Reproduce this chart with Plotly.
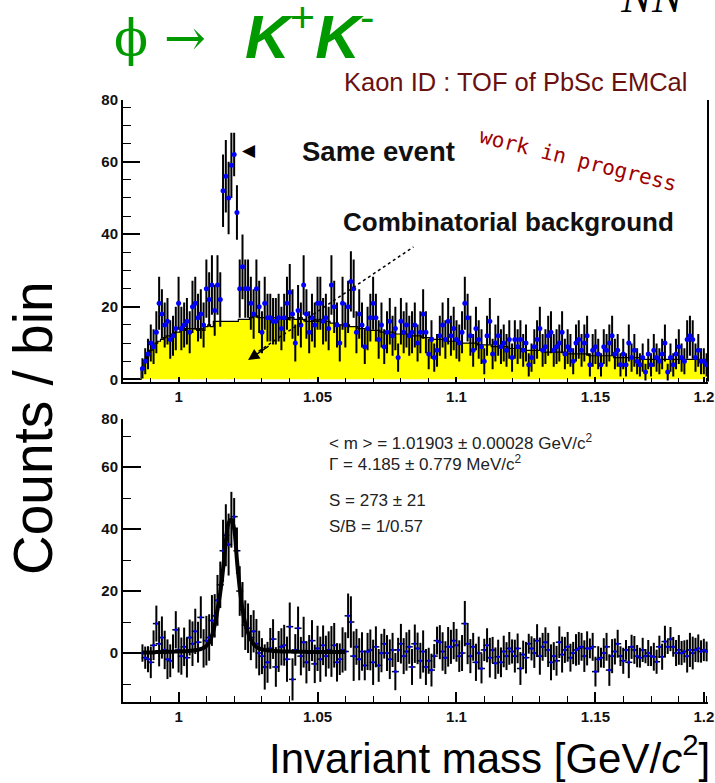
import numpy as np
import plotly.graph_objects as go

W, H = 715, 783

# ---------------- data ----------------
BIN = 0.001
DATA_START = 0.987   # first bin centre of the same-event / subtracted spectra
BKG_START = 0.981    # first bin centre of the combinatorial background
FIT_START = 0.987    # first point of the fit curve

# same-event K+K- pairs, counts per 1 MeV bin (0.987 ... 1.190)
same_event = [
    3, 5, 7, 10, 9, 13, 21, 18, 15, 16,
    11, 12, 14, 21, 14, 15, 16, 13, 20, 21,
    17, 18, 15, 25, 22, 26, 19, 26, 22, 52,
    56, 50, 59, 62, 46, 25, 31, 25, 25, 21,
    18, 25, 20, 13, 21, 17, 17, 16, 16, 17,
    14, 17, 21, 24, 18, 10, 19, 15, 26, 18,
    13, 17, 15, 21, 21, 16, 17, 14, 26, 20,
    15, 10, 21, 15, 20, 27, 25, 13, 18, 15,
    9, 14, 17, 21, 17, 11, 15, 9, 13, 16,
    12, 14, 6, 16, 13, 15, 12, 13, 15, 10,
    13, 18, 13, 7, 11, 6, 8, 12, 15, 11,
    16, 12, 14, 11, 10, 13, 21, 17, 12, 8,
    14, 11, 9, 5, 12, 16, 7, 10, 12, 9,
    10, 8, 11, 6, 11, 9, 11, 8, 10, 4,
    6, 9, 11, 14, 8, 9, 12, 13, 8, 9,
    10, 13, 7, 9, 8, 5, 10, 11, 8, 10,
    12, 4, 8, 9, 7, 4, 9, 8, 10, 12,
    7, 8, 4, 7, 4, 10, 6, 8, 5, 4,
    6, 2, 7, 4, 8, 6, 5, 7, 10, 2,
    6, 4, 7, 9, 6, 5, 11, 12, 11, 6,
    8, 5, 5, 4,
]

# error bar half-lengths per bin (same binning)
bin_errors = [
    2.8, 3.6, 4.2, 5.1, 4.8, 5.8, 7.3, 6.8, 6.2, 6.4,
    5.3, 5.5, 6.0, 7.3, 6.0, 6.2, 6.4, 5.8, 7.2, 7.3,
    6.6, 6.8, 6.2, 8.0, 7.5, 8.2, 7.0, 8.2, 7.5, 10.0,
    10.0, 10.0, 9.0, 6.0, 7.5, 8.0, 8.9, 8.0, 8.0, 7.3,
    6.8, 8.0, 7.2, 5.8, 7.3, 6.6, 6.6, 6.4, 6.4, 6.6,
    6.0, 6.6, 7.3, 7.8, 6.8, 5.1, 7.0, 6.2, 8.2, 6.8,
    5.8, 6.6, 6.2, 7.3, 7.3, 6.4, 6.6, 6.0, 8.2, 7.2,
    6.2, 5.1, 7.3, 6.2, 7.2, 8.3, 8.0, 5.8, 6.8, 6.2,
    4.8, 6.0, 6.6, 7.3, 6.6, 5.3, 6.2, 4.8, 5.8, 6.4,
    5.5, 6.0, 3.9, 6.4, 5.8, 6.2, 5.5, 5.8, 6.2, 5.1,
    5.8, 6.8, 5.8, 4.2, 5.3, 3.9, 4.5, 5.5, 6.2, 5.3,
    6.4, 5.5, 6.0, 5.3, 5.1, 5.8, 7.3, 6.6, 5.5, 4.5,
    6.0, 5.3, 4.8, 3.6, 5.5, 6.4, 4.2, 5.1, 5.5, 4.8,
    5.1, 4.5, 5.3, 3.9, 5.3, 4.8, 5.3, 4.5, 5.1, 3.2,
    3.9, 4.8, 5.3, 6.0, 4.5, 4.8, 5.5, 5.8, 4.5, 4.8,
    5.1, 5.8, 4.2, 4.8, 4.5, 3.6, 5.1, 5.3, 4.5, 5.1,
    5.5, 3.2, 4.5, 4.8, 4.2, 3.2, 4.8, 4.5, 5.1, 5.5,
    4.2, 4.5, 3.2, 4.2, 3.2, 5.1, 3.9, 4.5, 3.6, 3.2,
    3.9, 2.3, 4.2, 3.2, 4.5, 3.9, 3.6, 4.2, 5.1, 2.3,
    3.9, 3.2, 4.2, 4.8, 3.9, 3.6, 5.3, 5.5, 5.3, 3.9,
    4.5, 3.6, 3.6, 3.2,
]

# combinatorial (mixed-event) background, per bin (0.981 ... 1.190)
background = [
    0, 0, 0, 0, 0, 0, 3, 5, 6.5, 8,
    9, 10, 10.5, 11, 11.5, 12, 12, 12.5, 13, 13,
    13.5, 13.5, 14, 14, 14, 14, 13.5, 14, 13.5, 14.5,
    15, 14.5, 16, 16, 16, 16, 16, 16, 16, 16,
    16, 16.5, 16.5, 16.5, 16.5, 17, 17.5, 17.5, 17, 17,
    17, 17, 17, 17, 17, 17, 17, 16.5, 16.5, 17,
    17, 16.5, 16.5, 17, 16.5, 16, 16, 16, 16.5, 16,
    16.5, 16, 16, 16, 15.5, 15.5, 15.5, 15, 15, 15,
    15, 14.5, 14.5, 14.5, 14, 14, 14, 14, 13.5, 13.5,
    13.5, 13.5, 13, 13, 13, 13, 13, 12.5, 12.5, 12.5,
    12.5, 12.5, 12, 12, 12, 12, 12, 11.5, 11.5, 11.5,
    11.5, 11, 11, 11, 11, 11, 10.5, 10.5, 10.5, 10.5,
    10.5, 10, 10, 10, 10, 10, 10, 9.5, 9.5, 9.5,
    9.5, 9.5, 9, 9, 9, 9, 9, 9, 8.5, 8.5,
    8.5, 8.5, 8.5, 8.5, 8, 8, 8, 8, 8, 8,
    8, 7.5, 7.5, 7.5, 7.5, 7.5, 7.5, 7.5, 7.5, 7,
    7, 7, 7, 7, 7, 7, 7, 6.5, 6.5, 6.5,
    6.5, 6.5, 6.5, 6.5, 6.5, 6.5, 6, 6, 6, 6,
    6, 6, 6, 6, 6, 6, 5.5, 5.5, 5.5, 5.5,
    5.5, 5.5, 5.5, 5.5, 5.5, 5.5, 5.5, 5.5, 5.5, 5.5,
    5.5, 5.5, 5.5, 5.5, 5.5, 5.5, 5.5, 5.5, 5.5, 5.5,
]

# background-subtracted spectrum, per bin (0.987 ... 1.190)
subtracted = [
    0, -1.5, -2, -3, 2.5, 9.5, 3, 5, 1, -2,
    -2.5, 0.5, 7.5, 1, -1, 2, -1.5, 5, 3, 7,
    3.5, 11.5, 1.5, 4, 5, 10.5, 12, 17, 22, 33,
    38, 35, 43, 44, 33, 20, 14, 9, 8, 5,
    7, 3, 0, -1, -4.5, -3, 1.5, 4.5, -4.5, 0.5,
    2, 2.5, -2, 8.5, -8.5, 1, 8, -1, 3.5, -3,
    0, 4, -3.5, 1.5, -2, 2.5, -1, 1, 0.5, 2.5,
    -3, -2, 1, 0.5, 12, 10, -1, 2, -2, 0.5,
    -4, 0.5, 1, -3, 2, -4, 0, 3, 0, -2,
    1, -6, 1, 3, -1, 0.5, 2, -4.5, 3, 1.5,
    -2.5, 0.5, -4.5, -2.5, -5.5, -1, 4, 3.5, 0.5, -1.5,
    2, 2, 4, 2.5, -1, 0, 9.5, 3, -1, 2,
    -3, 0, -5, 1, 2.5, -1.5, 1, -3.3, -1.2, -3,
    0.5, -1, 1.5, 0.5, -1, 1.5, -5, -0.5, -1.5, 3,
    1.5, 0, 4, -1, 2, 3.5, 1, -3, -1, -2.5,
    3.5, -0.5, 1, 2, -1.5, 0, 1, 1.5, 2, -1,
    1.5, 1.5, 2, -6, -2, -1.5, 0, 2, -5.5, -1,
    0.5, 3, -1, -2.5, 1, -3, 2, 1, -1, -1.5,
    1, -1, 0, -1, -1.2, -2.8, 2, -1.2, 3.7, 2,
    4.5, 2, 0, 1, 0, 0.5, -1, 1, 0, 1,
    1.5, 0.5, 1, 0.5,
]

# fitted phi line shape (0.987 ... 1.060)
fit_curve = [
    0.2, 0.2, 0.2, 0.2, 0.2, 0.3, 0.3, 0.3, 0.3, 0.4,
    0.4, 0.4, 0.5, 0.5, 0.5, 0.6, 0.6, 0.7, 0.8, 0.9,
    1.1, 1.3, 1.7, 2.3, 3.3, 5.5, 9, 14, 19.5, 27,
    36, 42, 43, 40, 30, 21, 14, 9.5, 6.5, 4.3,
    2.8, 2, 1.5, 1.2, 1, 0.9, 0.8, 0.7, 0.6, 0.6,
    0.5, 0.5, 0.5, 0.5, 0.4, 0.4, 0.4, 0.4, 0.4, 0.4,
    0.3, 0.3, 0.3, 0.3, 0.3, 0.3, 0.3, 0.3, 0.3, 0.3,
    0.3, 0.3, 0.3, 0.3,
]

x_tick_vals = [1.0, 1.05, 1.1, 1.15, 1.189]
x_tick_text = ["1", "1.05", "1.1", "1.15", "1.2"]
y_tick_text = ["0", "20", "40", "60", "80"]
top_y_tick_vals = [0, 20, 40, 60, 77]
bot_y_tick_vals = [0, 20, 40, 60, 75.5]

# ---------------- derived bin centres ----------------
x_data = np.round(DATA_START + BIN * np.arange(len(same_event)), 4)
x_bkg = np.round(BKG_START + BIN * np.arange(len(background)), 4)
x_fit = np.round(FIT_START + BIN * np.arange(len(fit_curve)), 4)


def pxx(x):
    return x / W


def pxy(y):
    return 1 - y / H


GREEN = "#009a00"
BLUE = "#0000ff"
SANS = "Liberation Sans, Arial, sans-serif"
SERIF = "DejaVu Serif, Liberation Serif, serif"

fig = go.Figure()

# top panel: background
fig.add_trace(go.Scatter(
    x=x_bkg, y=background, mode="lines",
    line=dict(shape="hvh", color="black", width=1.2),
    fill="tozeroy", fillcolor="#ffff00",
    xaxis="x", yaxis="y", hoverinfo="skip", showlegend=False))

# top panel: same event
fig.add_trace(go.Scatter(
    x=x_data, y=same_event, mode="markers",
    marker=dict(color=BLUE, size=5),
    error_y=dict(type="data", array=bin_errors, color="black", thickness=2, width=0),
    xaxis="x", yaxis="y", showlegend=False))

# bottom panel: subtracted spectrum
fig.add_trace(go.Scatter(
    x=x_data, y=subtracted, mode="markers",
    marker=dict(symbol="line-ew", size=5, color="black", line=dict(color="black", width=1.5)),
    error_y=dict(type="data", array=bin_errors, color="black", thickness=2, width=0),
    xaxis="x2", yaxis="y2", showlegend=False))
fig.add_trace(go.Scatter(
    x=x_data, y=subtracted, mode="markers",
    marker=dict(color=BLUE, size=3),
    xaxis="x2", yaxis="y2", showlegend=False))

# bottom panel: fit
fig.add_trace(go.Scatter(
    x=x_fit, y=fit_curve, mode="lines",
    line=dict(color="black", width=4, shape="spline"),
    xaxis="x2", yaxis="y2", showlegend=False))

# partly cut "NN" at the very top (clipped by a thin invisible strip of axes)
fig.add_trace(go.Scatter(
    x=[0.5], y=[1.0], mode="text", text=["<i>NN</i>"], textposition="middle center",
    textfont=dict(family="Liberation Serif, serif", size=46, color="black"),
    cliponaxis=True, xaxis="x3", yaxis="y3", hoverinfo="skip", showlegend=False))

XDOM = [pxx(123), pxx(708)]
XRANGE = [0.98, 1.1905]
tickfont = dict(family=SANS, size=15, color="#111", weight="bold")

common_x = dict(
    range=XRANGE, domain=XDOM, showgrid=False, zeroline=False, automargin=False,
    tickmode="array", tickvals=x_tick_vals, ticktext=x_tick_text,
    ticks="inside", tickcolor="black", tickwidth=1.5,
    showline=True, linecolor="black", linewidth=2,
    tickfont=tickfont,
)

fig.update_layout(
    width=W, height=H,
    margin=dict(l=0, r=0, t=0, b=0, autoexpand=False),
    paper_bgcolor="white", plot_bgcolor="rgba(0,0,0,0)",
    showlegend=False,
    xaxis=dict(**common_x, anchor="y", ticklen=5,
               minor=dict(tickmode="linear", tick0=0, dtick=0.01, ticks="inside",
                          ticklen=4, tickcolor="black", tickwidth=1.2)),
    yaxis=dict(domain=[pxy(381.5), pxy(100)], range=[-0.6, 77], anchor="x",
               showgrid=False, zeroline=False, automargin=False, tickmode="array",
               tickvals=top_y_tick_vals, ticktext=y_tick_text,
               ticks="inside", ticklen=17, tickcolor="black", tickwidth=1.5,
               showline=True, linecolor="black", linewidth=2, tickfont=tickfont,
               minor=dict(tickmode="linear", tick0=0, dtick=5, ticks="inside",
                          ticklen=8, tickcolor="black", tickwidth=1.2)),
    xaxis2=dict(**common_x, anchor="y2", ticklen=10,
                minor=dict(tickmode="linear", tick0=0, dtick=0.01, ticks="inside",
                           ticklen=6, tickcolor="black", tickwidth=1.2)),
    yaxis2=dict(domain=[pxy(702), pxy(419)], range=[-15.8, 75.5], anchor="x2",
                showgrid=False, zeroline=False, automargin=False, tickmode="array",
                tickvals=bot_y_tick_vals, ticktext=y_tick_text,
                ticks="inside", ticklen=18, tickcolor="black", tickwidth=1.5,
                showline=True, linecolor="black", linewidth=2, tickfont=tickfont,
                minor=dict(tickmode="linear", tick0=0, dtick=10, ticks="inside",
                           ticklen=8, tickcolor="black", tickwidth=1.2)),
    xaxis3=dict(domain=[pxx(596), pxx(708)], range=[0, 1], visible=False,
                automargin=False, anchor="y3"),
    yaxis3=dict(domain=[pxy(14), 1.0], range=[0, 1.02], visible=False,
                automargin=False, anchor="x3"),
)

# right frame of the top panel
fig.add_shape(type="line", xref="paper", yref="paper",
              x0=pxx(708), x1=pxx(708), y0=pxy(381.5), y1=pxy(100),
              line=dict(color="black", width=2))

# dotted pointer to the background
fig.add_shape(type="line", xref="x", yref="y",
              x0=1.027, y0=6.8, x1=1.0845, y1=36.5,
              line=dict(color="black", width=1.5, dash="dot"))

ann = []


def text(x, y, t, size, color="black", family=SANS, xanchor="left", yanchor="middle",
         angle=0, weight="normal"):
    ann.append(dict(x=pxx(x), y=pxy(y), xref="paper", yref="paper", text=t,
                    showarrow=False, xanchor=xanchor, yanchor=yanchor, textangle=angle,
                    font=dict(size=size, color=color, family=family, weight=weight)))


text(112, 38, "ϕ →", 50, GREEN, SERIF)
text(243, 32, "<b><i>K</i></b><sup>+</sup><b><i>K</i></b><sup>-</sup>", 62, GREEN)
text(342, 82, "Kaon ID : TOF of PbSc EMCal", 25.5, "#6a1010")
text(300, 152, "Same event", 27.5, "#111", weight="bold")
text(240, 150, "◀", 17, "black", "DejaVu Sans, sans-serif")
text(341, 222, "Combinatorial background", 26, "#111", weight="bold")
text(578, 160, "work in progress", 21, "#a00000", "DejaVu Sans Mono, monospace",
     xanchor="center", angle=14)

text(327, 442, "&lt; m &gt; = 1.01903 ± 0.00028 GeV/c<sup>2</sup>", 17, "#222")
text(327, 463, "Γ = 4.185 ± 0.779 MeV/c<sup>2</sup>", 17, "#222")
text(327, 500, "S = 273 ± 21", 17, "#222")
text(327, 526, "S/B = 1/0.57", 17, "#222")

text(33, 428, "Counts / bin", 55, "black", angle=-90, xanchor="center")
text(712, 755, "Invariant mass [GeV/<i>c</i><sup>2</sup>]", 42, "black", xanchor="right")

# arrow head of the pointer
ann.append(dict(x=1.025, y=5.3, xref="x", yref="y", ax=22, ay=-15, text="",
                showarrow=True, arrowhead=2, arrowsize=1.5, arrowwidth=1.5,
                arrowcolor="black"))

fig.update_layout(annotations=ann)

fig.write_html("out.html",
               config={"displayModeBar": False},
               post_script="document.body.style.margin='0px';"
                           "document.body.style.overflow='hidden';")
